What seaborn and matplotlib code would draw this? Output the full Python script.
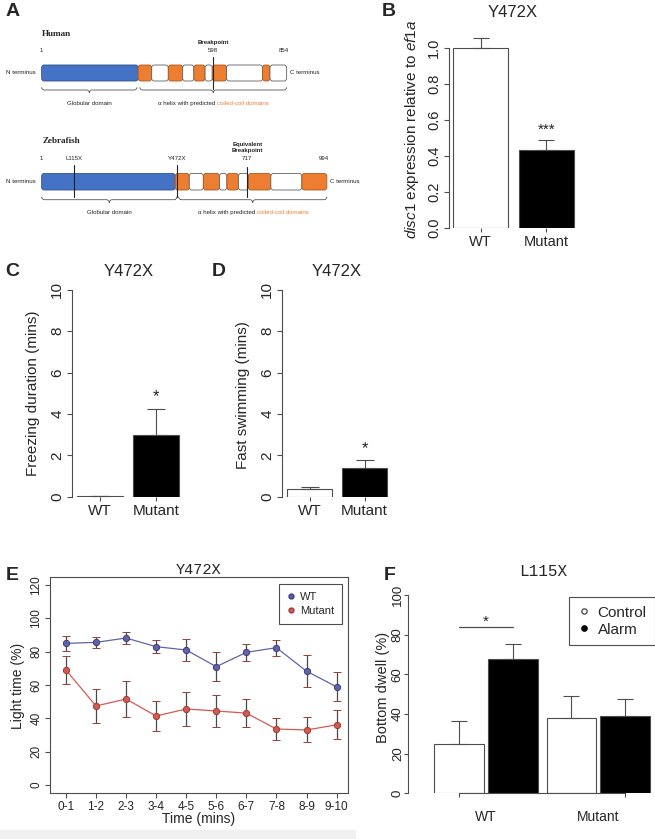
import numpy as np
import pandas as pd
import matplotlib
matplotlib.use("Agg")
import matplotlib.pyplot as plt
import seaborn as sns
from matplotlib.patches import FancyBboxPatch, PathPatch, Rectangle
from matplotlib.path import Path
from matplotlib.lines import Line2D
from matplotlib.ticker import FormatStrFormatter

sns.set_theme(style="ticks")
plt.rcParams['font.family'] = ['Liberation Sans', 'DejaVu Sans']
plt.rcParams['font.monospace'] = ['Liberation Mono', 'DejaVu Sans Mono', 'Courier New']
plt.rcParams['font.serif'] = ['Liberation Serif', 'DejaVu Serif']
plt.rcParams['mathtext.fontset'] = 'custom'
plt.rcParams['mathtext.rm'] = 'Liberation Sans'
plt.rcParams['mathtext.it'] = 'Liberation Sans:italic'

# ---- data ----
# A: domain boundaries (amino acid positions), first segment = globular domain,
# then alternating coiled-coil / plain helix segments
human_bounds = [1, 337, 384, 442, 492, 531, 570, 595, 645, 770, 796, 854]
human_break = 598
zf_bounds = [1, 466, 515, 564, 620, 646, 686, 721, 799, 907, 994]
zf_mutations = ["L115X", "Y472X"]
zf_mutation_pos = [115, 472]
zf_break = 717

# B-D: Y472X
genotypes = ["WT", "Mutant"]
disc1_expr = [1.0, 0.433]
disc1_err = [0.055, 0.057]
freezing = [0.03, 3.0]
freezing_err = [0.02, 1.22]
fast_swim = [0.37, 1.40]
fast_swim_err = [0.11, 0.37]

# E: light time per minute bin
time_bins = ["0-1", "1-2", "2-3", "3-4", "4-5", "5-6", "6-7", "7-8", "8-9", "9-10"]
wt_light = [85.0, 85.6, 88.2, 83.0, 81.0, 71.0, 79.6, 82.4, 68.3, 58.9]
wt_light_err = [4.7, 3.3, 3.8, 3.8, 6.4, 8.7, 5.0, 4.7, 9.6, 8.7]
mut_light = [69.0, 47.4, 51.6, 41.4, 45.6, 44.4, 43.1, 33.6, 33.0, 36.1]
mut_light_err = [8.6, 10.0, 10.8, 8.8, 10.4, 9.5, 8.5, 6.5, 7.5, 8.8]

# F: L115X bottom dwell
conditions = ["Control", "Alarm"]
dwell_control = [24.7, 37.8]
dwell_control_err = [11.9, 11.1]
dwell_alarm = [67.6, 38.8]
dwell_alarm_err = [7.5, 8.6]

AX = '#4d4d4d'
BLUE, ORANGE = '#4472c4', '#ed7d31'
WT_C, MUT_C = '#6264a7', '#d35a52'

W, H = 655, 839
fig = plt.figure(figsize=(W / 100, H / 100), dpi=100)


def box(l, t, r, b):
    return fig.add_axes([l / W, 1 - b / H, (r - l) / W, (b - t) / H])


def ftext(x, y, s, **kw):
    kw.setdefault('ha', 'center')
    kw.setdefault('va', 'center')
    fig.text(x / W, 1 - y / H, s, **kw)


# ---------------- A: protein diagrams ----------------
ax_a = box(0, 0, 330, 230)
ax_a.set_xlim(-144, 1005)
ax_a.set_ylim(230, 0)
ax_a.axis('off')

FILL = {'globular': BLUE, 'coil': ORANGE, 'plain': 'white'}
EDGE = {'globular': '#2f528f', 'coil': '#a85a22', 'plain': '#606060'}
small = dict(fontsize=4.4, color='#222222')


def draw_protein(bounds, top, height):
    kinds = ['globular'] + ['coil', 'plain'] * (len(bounds) // 2)
    for s, e, k in zip(bounds[:-1], bounds[1:], kinds):
        ax_a.add_patch(FancyBboxPatch((s, top), e - s, height,
                                      boxstyle="round,pad=0,rounding_size=9",
                                      mutation_aspect=0.3, fc=FILL[k], ec=EDGE[k], lw=0.6))
    ax_a.text(-20, top + height / 2, "N terminus", ha='right', va='center', **small)
    ax_a.text(bounds[-1] + 12, top + height / 2, "C terminus", ha='left', va='center', **small)


def brace(x0, x1, y0, depth, label):
    xm, ym, c = (x0 + x1) / 2, y0 + depth / 2, 10
    verts = [(x0, y0), (x0, ym), (x0 + c, ym), (xm - c, ym), (xm, ym), (xm, y0 + depth),
             (xm, ym), (xm + c, ym), (x1 - c, ym), (x1, ym), (x1, y0)]
    codes = [Path.MOVETO, Path.CURVE3, Path.CURVE3, Path.LINETO, Path.CURVE3, Path.CURVE3,
             Path.CURVE3, Path.CURVE3, Path.LINETO, Path.CURVE3, Path.CURVE3]
    ax_a.add_patch(PathPatch(Path(verts, codes), fill=False, ec='#555555', lw=0.6))
    if label is None:
        t = ax_a.text(xm + 14, y0 + 16, "\u03b1 helix with predicted ", ha='right', va='center', **small)
        ax_a.annotate("coiled-coil domains", xy=(1, 0), xycoords=t, va='bottom',
                      fontsize=4.4, color=ORANGE)
    else:
        ax_a.text(xm, y0 + 16, label, ha='center', va='center', **small)


# human
ax_a.text(3, 34, "Human", ha='left', va='center', fontsize=6.6, fontweight='bold', family='serif')
draw_protein(human_bounds, 65, 16)
ax_a.plot([human_break, human_break], [56.5, 88.5], color='#222222', lw=0.8)
ax_a.text(human_break, 42.3, "Breakpoint", ha='center', va='center', fontsize=4.3,
          fontweight='bold', color='#222222')
for v in [human_bounds[0], human_break, human_bounds[-1]]:
    ax_a.text(v if v != human_bounds[-1] else v - 10, 50, str(v), ha='center', va='center', **small)
brace(human_bounds[0], human_bounds[1] - 4, 87.3, 5.4, "Globular domain")
brace(human_bounds[1] + 6, human_bounds[-1], 87.3, 5.4, None)

# zebrafish
ax_a.text(3, 141, "Zebrafish", ha='left', va='center', fontsize=6.6, fontweight='bold', family='serif')
draw_protein(zf_bounds, 173.5, 16.5)
for name, pos in zip(zf_mutations, zf_mutation_pos):
    ax_a.plot([pos, pos], [165, 197], color='#222222', lw=0.8)
    ax_a.text(pos, 158.3, name, ha='center', va='center', **small)
ax_a.plot([zf_break, zf_break], [166.5, 197], color='#222222', lw=0.8)
ax_a.text(zf_break, 147.6, "Equivalent\nBreakpoint", ha='center', va='center', fontsize=4.3,
          fontweight='bold', color='#222222', linespacing=1.2)
ax_a.text(zf_break, 158.3, str(zf_break), ha='center', va='center', **small)
ax_a.text(zf_bounds[0], 158.3, "1", ha='center', va='center', **small)
ax_a.text(zf_bounds[-1] - 10, 158.3, str(zf_bounds[-1]), ha='center', va='center', **small)
brace(zf_bounds[0], zf_bounds[1] + 6, 196.7, 6, "Globular domain")
brace(zf_bounds[1] + 12, zf_bounds[-1], 196.7, 6, None)


# ---------------- bar panels B, C, D ----------------
def r_style(ax, ymax, step, size, fmt):
    sns.despine(ax=ax, bottom=True)
    ax.spines['left'].set_bounds(0, ymax)
    ax.spines['left'].set_color(AX)
    ax.spines['left'].set_linewidth(0.8)
    ax.set_yticks(np.arange(0, ymax + step / 2, step))
    ax.yaxis.set_major_formatter(FormatStrFormatter(fmt))
    ax.tick_params(axis='y', length=3.6, width=0.8, color=AX, pad=2, labelsize=size,
                   labelrotation=90)
    ax.tick_params(axis='x', length=2.7, width=0.8, color=AX, pad=2.5, labelsize=size)
    for t in ax.get_yticklabels():
        t.set_va('center')
    ax.set_xlabel('')
    ax.set_ylabel('')


def bar_panel(ax, vals, errs, cap):
    sns.barplot(x=genotypes, y=vals, hue=genotypes, palette=['white', 'black'], width=0.83,
                saturation=1, edgecolor=AX, linewidth=0.8, legend=False, ax=ax)
    ax.errorbar(range(len(vals)), vals, yerr=[np.zeros(len(errs)), errs], fmt='none',
                ecolor=AX, elinewidth=0.8, capsize=cap, capthick=0.8, zorder=3)


ax_b = box(449, 30, 576, 228)
bar_panel(ax_b, disc1_expr, disc1_err, 6)
ax_b.set_xlim(-0.48, 1.45)
ax_b.set_ylim(0, 1.1)
r_style(ax_b, 1.0, 0.2, 10.5, '%.1f')
ax_b.text(1, 0.545, "***", ha='center', va='center', fontsize=11, color='#222222')

ax_c = box(72, 277.3, 180.8, 496.7)
bar_panel(ax_c, freezing, freezing_err, 6.2)
ax_c.set_xlim(-0.51, 1.45)
ax_c.set_ylim(0, 10.6)
r_style(ax_c, 10, 2, 11, '%d')
ax_c.text(1, 4.85, "*", ha='center', va='center', fontsize=12, color='#222222')

ax_d = box(282, 277.3, 389.3, 496.7)
bar_panel(ax_d, fast_swim, fast_swim_err, 6.2)
ax_d.set_xlim(-0.5, 1.45)
ax_d.set_ylim(0, 10.6)
r_style(ax_d, 10, 2, 11, '%d')
ax_d.text(1, 2.3, "*", ha='center', va='center', fontsize=12, color='#222222')

ftext(513, 12.5, "Y472X", fontsize=12)
ftext(412, 129, r"$\it{disc1}$ expression relative to $\it{ef1a}$", fontsize=11, rotation=90)
ftext(129, 271, "Y472X", fontsize=12)
ftext(33.5, 393, "Freezing duration (mins)", fontsize=11, rotation=90)
ftext(337, 271, "Y472X", fontsize=12)
ftext(243.5, 395, "Fast swimming (mins)", fontsize=11, rotation=90)

# ---------------- E: light time line plot ----------------
ax_e = box(50, 576.7, 347.7, 793.3)
bins = np.arange(len(time_bins))
light = pd.DataFrame({
    'bin': np.concatenate([bins, bins]),
    'light': wt_light + mut_light,
    'group': ['WT'] * len(bins) + ['Mutant'] * len(bins),
})
for vals, errs in [(wt_light, wt_light_err), (mut_light, mut_light_err)]:
    ax_e.errorbar(bins, vals, yerr=errs, fmt='none', ecolor='#4a4a4a', elinewidth=0.9,
                  capsize=3.2, capthick=0.9, zorder=2)
sns.lineplot(data=light, x='bin', y='light', hue='group', palette={'WT': WT_C, 'Mutant': MUT_C},
             marker='o', markersize=4.5, linewidth=0.9, errorbar=None, legend=False,
             ax=ax_e, zorder=3)
for line in ax_e.lines:
    line.set_markeredgecolor('#3c3c7a' if line.get_color() == WT_C else '#a03a34')
    line.set_markeredgewidth(0.7)
ax_e.set_xlim(-0.53, 9.37)
ax_e.set_ylim(-5, 125)
ax_e.set_xticks(bins, time_bins)
ax_e.set_yticks(np.arange(0, 121, 20))
for s in ax_e.spines.values():
    s.set_color(AX)
    s.set_linewidth(0.8)
ax_e.tick_params(length=3.6, width=0.8, color=AX, labelsize=8.5, pad=2)
ax_e.tick_params(axis='y', labelrotation=90)
for t in ax_e.get_yticklabels():
    t.set_va('center')
ax_e.set_xlabel('')
ax_e.set_ylabel('')
handles = [Line2D([], [], ls='none', marker='o', ms=3.5, mfc=WT_C, mec='#3c3c7a'),
           Line2D([], [], ls='none', marker='o', ms=3.5, mfc=MUT_C, mec='#a03a34')]
leg = ax_e.legend(handles, ["WT", "Mutant"], loc='upper right', bbox_to_anchor=(0.98, 0.966),
                  borderaxespad=0, fancybox=False, edgecolor=AX, framealpha=1, fontsize=8,
                  handlelength=0.8, handletextpad=0.4, borderpad=0.7, labelspacing=0.35)
leg.get_frame().set_linewidth(0.8)
ftext(199, 570.5, "Y472X", fontsize=11, family='monospace')
ftext(18.5, 686, "Light time (%)", fontsize=10, rotation=90)
ftext(199, 818.5, "Time (mins)", fontsize=10)

# ---------------- F: bottom dwell grouped bars ----------------
ax_f = box(408, 585, 655, 793.3)
dwell = pd.DataFrame({
    'genotype': genotypes * 2,
    'condition': [conditions[0]] * 2 + [conditions[1]] * 2,
    'dwell': dwell_control + dwell_alarm,
})
sns.barplot(data=dwell, x='genotype', y='dwell', hue='condition',
            palette={'Control': 'white', 'Alarm': 'black'}, width=0.955, gap=0.077,
            saturation=1, edgecolor=AX, linewidth=0.8, legend=False, ax=ax_f)
centers = []
for bars, errs in zip(ax_f.containers, [dwell_control_err, dwell_alarm_err]):
    xs = [b.get_x() + b.get_width() / 2 for b in bars]
    hs = [b.get_height() for b in bars]
    centers.append(xs)
    ax_f.errorbar(xs, hs, yerr=[np.zeros(len(errs)), errs], fmt='none', ecolor=AX,
                  elinewidth=0.8, capsize=5.8, capthick=0.8, zorder=3)
ax_f.set_xlim(-0.695, 1.505)
ax_f.set_ylim(0, 105)
sns.despine(ax=ax_f)
ax_f.spines['left'].set_bounds(0, 100)
ax_f.spines['bottom'].set_bounds(centers[0][0], centers[1][-1])
for s in ax_f.spines.values():
    s.set_color(AX)
    s.set_linewidth(0.8)
ax_f.set_yticks(np.arange(0, 101, 20))
ax_f.set_xticks(range(len(genotypes)), genotypes)
ax_f.set_xticks([centers[0][0], centers[1][-1]], minor=True)
ax_f.tick_params(axis='x', which='major', length=0, pad=12, labelsize=10)
ax_f.tick_params(axis='x', which='minor', length=3.2, width=0.8, color=AX)
ax_f.tick_params(axis='y', length=3, width=0.8, color=AX, pad=0, labelsize=9.5,
                 labelrotation=90)
for t in ax_f.get_yticklabels():
    t.set_va('center')
ax_f.set_xlabel('')
ax_f.set_ylabel('')
ax_f.plot([centers[0][0], centers[1][0]], [84, 84], color=AX, lw=0.9)
ax_f.text(np.mean([centers[0][0], centers[1][0]]), 86.5, "*", ha='center', va='center',
          fontsize=11, color='#222222')
fhandles = [Line2D([], [], ls='none', marker='o', ms=3.8, mfc='white', mec='#555555'),
            Line2D([], [], ls='none', marker='o', ms=3.8, mfc='black', mec='black')]
leg = ax_f.legend(fhandles, conditions, loc='upper right', bbox_to_anchor=(1.0, 0.941),
                  borderaxespad=0, fancybox=False, edgecolor=AX, framealpha=1, fontsize=11,
                  handlelength=0.8, handletextpad=0.5, borderpad=0.55, labelspacing=0.2)
leg.get_frame().set_linewidth(0.8)
ftext(543, 572, "L115X", fontsize=11.5, family='monospace')
ftext(383, 687, "Bottom dwell (%)", fontsize=10.5, rotation=90)

# panel letters
for letter, x, y in [("A", 13, 12), ("B", 389, 11.5), ("C", 12, 272), ("D", 219, 272),
                     ("E", 12, 576), ("F", 390, 575)]:
    ftext(x, y, letter, fontsize=14, fontweight='bold')

fig.patches.append(Rectangle((0, 0), 355 / W, 9 / H, transform=fig.transFigure,
                             color='#f0f0f0', zorder=-1))

fig.savefig("out.png", dpi=100)
